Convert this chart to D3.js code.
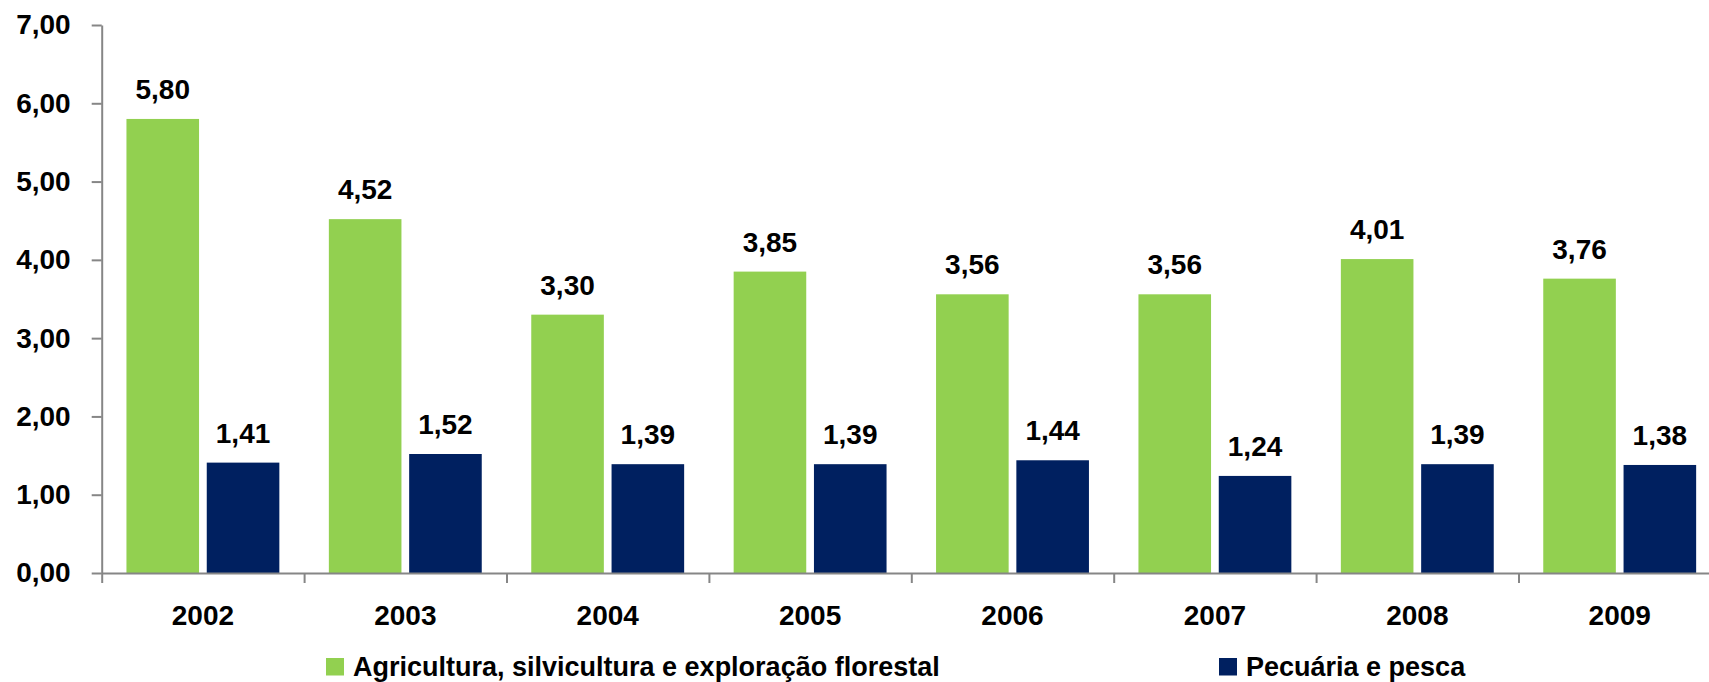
<!DOCTYPE html>
<html>
<head>
<meta charset="utf-8">
<script src="https://cdn.jsdelivr.net/npm/d3@7"></script>
<style>
  html, body { margin: 0; padding: 0; background: #fff; }
  svg { display: block; }
  text { font-family: "Liberation Sans", Arial, sans-serif; font-weight: bold; fill: #000; }
</style>
</head>
<body>
<svg id="chart" width="1709" height="682"></svg>
<script>
const years = ["2002","2003","2004","2005","2006","2007","2008","2009"];
const seriesNames = ["Agricultura, silvicultura e exploração florestal", "Pecuária e pesca"];
const agricultura = [5.80, 4.52, 3.30, 3.85, 3.56, 3.56, 4.01, 3.76];
const pecuaria = [1.41, 1.52, 1.39, 1.39, 1.44, 1.24, 1.39, 1.38];
const yTicks = [0, 1, 2, 3, 4, 5, 6, 7];
const colors = ["#92D050", "#002060"];

const svg = d3.select("#chart");
const axisColor = "#868686";
const plotLeft = 101.7, plotRight = 1720.9, plotTop = 25, plotBottom = 573;

const y = d3.scaleLinear().domain([0, 7]).range([plotBottom, plotTop]);
const pi = 0.2446;
const x = d3.scaleBand().domain(years).range([plotLeft, plotRight]).paddingInner(pi).paddingOuter(pi / 2);
const xs = d3.scaleBand().domain([0, 1]).range([0, x.bandwidth()]).paddingInner(0.096).paddingOuter(0);
const xb = d3.scaleLinear().domain([0, years.length]).range([plotLeft, plotRight]);

const fmt = v => v.toFixed(2).replace(".", ",");
const series = [agricultura, pecuaria];

// bars
series.forEach((vals, si) => {
  const g = svg.append("g");
  g.selectAll("rect").data(vals).join("rect")
    .attr("x", (d, i) => x(years[i]) + xs(si))
    .attr("width", xs.bandwidth())
    .attr("y", d => y(d))
    .attr("height", d => y(0) - y(d))
    .attr("fill", colors[si]);
  g.selectAll("text").data(vals).join("text")
    .attr("x", (d, i) => x(years[i]) + xs(si) + xs.bandwidth() / 2)
    .attr("y", d => y(d) - 20)
    .attr("text-anchor", "middle")
    .style("font-size", "28px")
    .text(d => fmt(d));
});

// y axis
const yAxis = svg.append("g").attr("transform", `translate(${plotLeft},0)`)
  .call(d3.axisLeft(y).tickValues(yTicks).tickFormat(fmt).tickSize(10).tickSizeOuter(0).tickPadding(21));
yAxis.select(".domain").attr("stroke", axisColor).attr("stroke-width", 2);
yAxis.selectAll(".tick line").attr("stroke", axisColor).attr("stroke-width", 2);
yAxis.selectAll(".tick text").attr("font-family", null).style("font-size", "28px").attr("fill", "#000");

// x axis boundary ticks
const xAxisB = svg.append("g").attr("transform", `translate(0,${plotBottom})`)
  .call(d3.axisBottom(xb).tickValues(d3.range(years.length + 1)).tickFormat("").tickSize(10).tickSizeOuter(0));
xAxisB.select(".domain").attr("stroke", axisColor).attr("stroke-width", 2);
xAxisB.selectAll(".tick line").attr("stroke", axisColor).attr("stroke-width", 2);

// x labels
const xAxis = svg.append("g").attr("transform", `translate(0,${plotBottom})`)
  .call(d3.axisBottom(x).tickSize(0).tickPadding(0));
xAxis.select(".domain").remove();
xAxis.selectAll(".tick text").attr("font-family", null).attr("y", 52).attr("dy", null)
  .style("font-size", "28px").attr("fill", "#000");

// legend
const legendX = [326, 1219];
seriesNames.forEach((name, i) => {
  svg.append("rect").attr("x", legendX[i]).attr("y", 658).attr("width", 18).attr("height", 17.5).attr("fill", colors[i]);
  svg.append("text").attr("x", legendX[i] + 27).attr("y", 676).style("font-size", "27px").text(name);
});
</script>
</body>
</html>
